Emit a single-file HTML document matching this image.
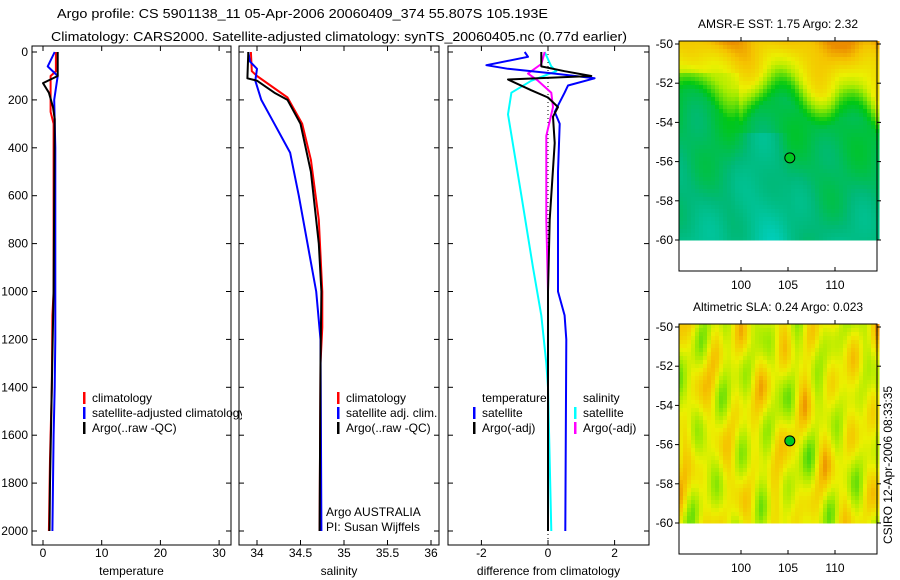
<!DOCTYPE html>
<html><head><meta charset="utf-8"><style>
body{margin:0;background:#fff}
svg{display:block;font-family:"Liberation Sans",sans-serif}
</style></head><body>
<svg id="fig" width="900" height="580" viewBox="0 0 900 580">
<text x="57" y="18" font-size="13" textLength="491" lengthAdjust="spacingAndGlyphs">Argo profile: CS 5901138_11 05-Apr-2006 20060409_374 55.807S 105.193E</text>
<text x="51" y="41" font-size="13" textLength="576" lengthAdjust="spacingAndGlyphs">Climatology: CARS2000. Satellite-adjusted climatology: synTS_20060405.nc (0.77d earlier)</text>
<g id="maps"></g>
<g id="plots"></g>
<text transform="translate(892,465) rotate(-90)" font-size="12" text-anchor="middle">CSIRO 12-Apr-2006 08:33:35</text>
</svg>
<script>
// ---------- data ----------
const depthsTClim=[0,80,100,250,300,1000,1100,1400,1700,2000];
const tempClim=[2.2,2.2,1.3,1.3,1.8,1.8,1.6,1.5,1.2,1.0];
const depthsTSat=[0,60,100,200,400,1200,1400,1600,2000];
const tempSat=[2.0,0.8,2.5,1.9,2.1,2.1,2.0,1.8,1.6];
const depthsTArgo=[0,100,130,170,230,280,1000,1400,1800,2000];
const tempArgo=[2.5,2.5,0.0,1.0,1.7,2.0,1.8,1.5,1.2,1.1];

const depthsSClim=[0,80,100,190,300,450,700,1000,1150,1300,2000];
const salClim=[33.93,33.94,34.0,34.35,34.52,34.62,34.71,34.75,34.75,34.73,34.72];
const depthsSSat=[0,40,70,120,200,300,420,600,800,1000,1200,2000];
const salSat=[33.9,33.92,34.0,33.98,34.05,34.2,34.38,34.48,34.58,34.68,34.73,34.74];
const depthsSArgo=[0,110,120,170,200,300,500,800,1000,1300,2000];
const salArgo=[33.9,33.89,34.0,34.2,34.35,34.5,34.62,34.71,34.74,34.73,34.72];

const depthsDTSat=[0,20,55,70,90,110,140,170,250,300,500,1000,1100,1200,2000];
const diffTSat=[-0.7,-0.6,-1.85,-1.2,0.2,1.4,0.6,0.5,0.2,0.35,0.3,0.3,0.5,0.55,0.52];
const depthsDTArgo=[0,60,80,100,115,160,190,230,270,380,700,1000,2000];
const diffTArgo=[-0.2,-0.2,0.5,1.3,-1.2,-0.5,0.0,0.3,0.15,0.2,0.05,0.0,0.0];
const depthsDSSat=[0,60,80,120,170,260,600,900,1100,1300,1400,2000];
const diffSSat=[-0.1,0.1,0.25,-0.5,-1.1,-1.2,-0.8,-0.45,-0.2,-0.05,0,0.1];
const depthsDSArgo=[0,50,90,120,170,230,350,700,1000,2000];
const diffSArgo=[-0.1,-0.2,-0.6,-0.3,0.1,0.15,-0.05,-0.05,0,0];

const depthTicks=[0,200,400,600,800,1000,1200,1400,1600,1800,2000];
const tempTicks=[0,10,20,30];
const salTicks=[34,34.5,35,35.5,36];
const diffTicks=[-2,0,2];
const lonTicks=[100,105,110];
const latTicks=[-50,-52,-54,-56,-58,-60];
const argoLon=105.193, argoLat=-55.807;

// ---------- helpers ----------
const NS='http://www.w3.org/2000/svg';
const plots=document.getElementById('plots');
const maps=document.getElementById('maps');
function mk(tag,attrs,parent){const e=document.createElementNS(NS,tag);for(const k in attrs)e.setAttribute(k,attrs[k]);parent.appendChild(e);return e;}
function yD(d){return 52+d*0.2395;}
const PT=46, PB=545;

function panel(name,x0,x1,xs,ticks,fmt,label,showY){
  const g=mk('g',{},plots);
  
  
  const r=mk('rect',{x:x0,y:PT,width:x1-x0,height:PB-PT,fill:'none',stroke:'#000','stroke-width':1},g);
  
  
  ticks.forEach(t=>{const x=xs(t);
    mk('line',{x1:x,x2:x,y1:PT,y2:PT+5,stroke:'#000'},g);
    mk('line',{x1:x,x2:x,y1:PB,y2:PB-5,stroke:'#000'},g);
    const tx=mk('text',{x:x,y:PB+12,'font-size':12,'text-anchor':'middle'},g);tx.textContent=fmt(t);
    
    
  });
  depthTicks.forEach(d=>{const y=yD(d);
    mk('line',{x1:x0,x2:x0+5,y1:y,y2:y,stroke:'#000'},g);
    mk('line',{x1:x1,x2:x1-5,y1:y,y2:y,stroke:'#000'},g);
    if(showY){const tx=mk('text',{x:x0-4,y:y+4,'font-size':12,'text-anchor':'end'},g);tx.textContent=d;
      
      }
  });
  const lb=mk('text',{x:(x0+x1)/2,y:575,'font-size':12,'text-anchor':'middle'},g);
  lb.textContent=label;
  
  
  return g;
}
function line(g,ds,vs,xs,color,name,w){
  const pts=ds.map((d,i)=>xs(vs[i]).toFixed(1)+','+yD(d).toFixed(1)).join(' ');
  const p=mk('polyline',{points:pts,fill:'none',stroke:color,'stroke-width':w||2,'stroke-linejoin':'round'},g);
  
  
}
function legend(g,x,y,items){
  items.forEach((it,i)=>{
    if(it.c) mk('rect',{x:x,y:y+i*15-10,width:2.5,height:12,fill:it.c},g);
    const t=mk('text',{x:x+9,y:y+i*15,'font-size':12},g);t.textContent=it.t;
    
    
  });
}

// temperature panel
const xT=v=>43+5.87*v;
const gT=panel('temperature-panel',32,231,xT,tempTicks,t=>t,'temperature',true);
line(gT,depthsTClim,tempClim,xT,'#f00','temp-climatology-line');
line(gT,depthsTSat,tempSat,xT,'#00f','temp-satellite-line');
line(gT,depthsTArgo,tempArgo,xT,'#000','temp-argo-line');
const clip=mk('clipPath',{id:'c1'},plots);mk('rect',{x:32,y:0,width:210,height:580},clip);
const lgT=mk('g',{'clip-path':'url(#c1)'},gT);
legend(lgT,83,402,[{c:'#f00',t:'climatology'},{c:'#00f',t:'satellite-adjusted climatology'},{c:'#000',t:'Argo(..raw -QC)'}]);

// salinity panel
const xS=v=>257+87*(v-34);
const gS=panel('salinity-panel',239,439,xS,salTicks,t=>t,'salinity',false);
line(gS,depthsSClim,salClim,xS,'#f00','sal-climatology-line');
line(gS,depthsSSat,salSat,xS,'#00f','sal-satellite-line');
line(gS,depthsSArgo,salArgo,xS,'#000','sal-argo-line');
legend(gS,337,402,[{c:'#f00',t:'climatology'},{c:'#00f',t:'satellite adj. clim.'},{c:'#000',t:'Argo(..raw -QC)'}]);
legend(gS,317,516,[{t:'Argo AUSTRALIA'},{t:'PI: Susan Wijffels'}]);

// difference panel
const xDf=v=>548+33.3*v;
const gD=panel('difference-panel',448,649,xDf,diffTicks,t=>t,'difference from climatology',false);
mk('line',{x1:xDf(0),x2:xDf(0),y1:PT,y2:PB,stroke:'#000','stroke-dasharray':'1,3'},gD);
line(gD,depthsDSSat,diffSSat,xDf,'#0ff','diff-sal-satellite-line');
line(gD,depthsDSArgo,diffSArgo,xDf,'#f0f','diff-sal-argo-line');
line(gD,depthsDTSat,diffTSat,xDf,'#00f','diff-temp-satellite-line');
line(gD,depthsDTArgo,diffTArgo,xDf,'#000','diff-temp-argo-line');
legend(gD,473,402,[{t:'temperature'},{c:'#00f',t:'satellite'},{c:'#000',t:'Argo(-adj)'}]);
legend(gD,574,402,[{t:'salinity'},{c:'#0ff',t:'satellite'},{c:'#f0f',t:'Argo(-adj)'}]);

// ---------- maps ----------
function cmap(v){
  v=Math.max(0,Math.min(1,v));
  const st=[[0,[0,215,215]],[0.3,[0,185,120]],[0.5,[0,200,20]],[0.68,[160,235,0]],[0.8,[235,240,0]],[0.92,[245,195,0]],[1,[235,140,0]]];
  for(let i=1;i<st.length;i++){if(v<=st[i][0]){const a=st[i-1],b=st[i],f=(v-a[0])/(b[0]-a[0]);
    return 'rgb('+a[1].map((c,k)=>Math.round(c+(b[1][k]-c)*f)).join(',')+')';}}
  return 'rgb(235,140,0)';
}
function drawMap(name,y50,title,field){
  const X0=679,X1=877,yLat=l=>y50+(-50-l)*19.6,xLon=l=>741+(l-100)*9.4;
  const top=y50-3, bottom=y50+227;
  const g=mk('g',{},maps);
  
  
  const cs=4,yEnd=yLat(-60);
  for(let y=top;y<yEnd;y+=cs)for(let x=X0;x<X1;x+=cs){
    mk('rect',{x:x,y:y,width:cs+0.5,height:Math.min(cs,yEnd-y)+0.5,fill:cmap(field((x-X0)/(X1-X0),(y-top)/(yEnd-top)))},g);
  }
  const fr=mk('rect',{x:X0,y:top,width:X1-X0,height:bottom-top,fill:'none',stroke:'#000'},g);
  
  
  lonTicks.forEach(l=>{const x=xLon(l);
    mk('line',{x1:x,x2:x,y1:top,y2:top-4,stroke:'#000'},g);
    mk('line',{x1:x,x2:x,y1:bottom,y2:bottom-4,stroke:'#000'},g);
    const t=mk('text',{x:x,y:bottom+18,'font-size':12,'text-anchor':'middle'},g);t.textContent=l;
    
    });
  latTicks.forEach(l=>{const y=yLat(l);
    mk('line',{x1:X0,x2:X0-4,y1:y,y2:y,stroke:'#000'},g);
    mk('line',{x1:X1,x2:X1+4,y1:y,y2:y,stroke:'#000'},g);
    const t=mk('text',{x:X0-6,y:y+4,'font-size':12,'text-anchor':'end'},g);t.textContent=l;
    
    });
  const tt=mk('text',{x:(X0+X1)/2,y:y50-16,'font-size':12,'text-anchor':'middle'},g);tt.textContent=title;
  
  
  const c=mk('circle',{cx:xLon(argoLon),cy:yLat(argoLat),r:5,fill:'#00c820',stroke:'#000','stroke-width':1},g);
  
  
}
drawMap('sst-map',44,'AMSR-E SST: 1.75 Argo: 2.32',(u,v)=>{
  let b=v+0.08*Math.sin(u*14+1)-(u>0.8?0.18*(u-0.8)/0.2:0)+(u<0.3&&v>0.15?0.04:0);
  let base=b<0.18?0.93-b*0.9:(b<0.35?0.77-(b-0.18)*2.0:0.42-(b-0.35)*0.25);
  if(u>0.25&&u<0.55&&v>0.45) base-=0.1*Math.sin((u-0.25)/0.3*Math.PI);
  return base+0.04*Math.sin(u*17+v*9)+0.03*Math.cos(u*23-v*14);
});
drawMap('sla-map',327,'Altimetric SLA: 0.24 Argo: 0.023',(u,v)=>{
  return 0.79+0.07*Math.sin(u*26+1)*Math.cos(v*8+0.5)+0.07*Math.sin(u*37-v*3+2)*Math.sin(v*11+1)+0.06*Math.cos(u*19+v*15)-0.05*Math.cos(u*53+v*4);
});
</script>
</body></html>
